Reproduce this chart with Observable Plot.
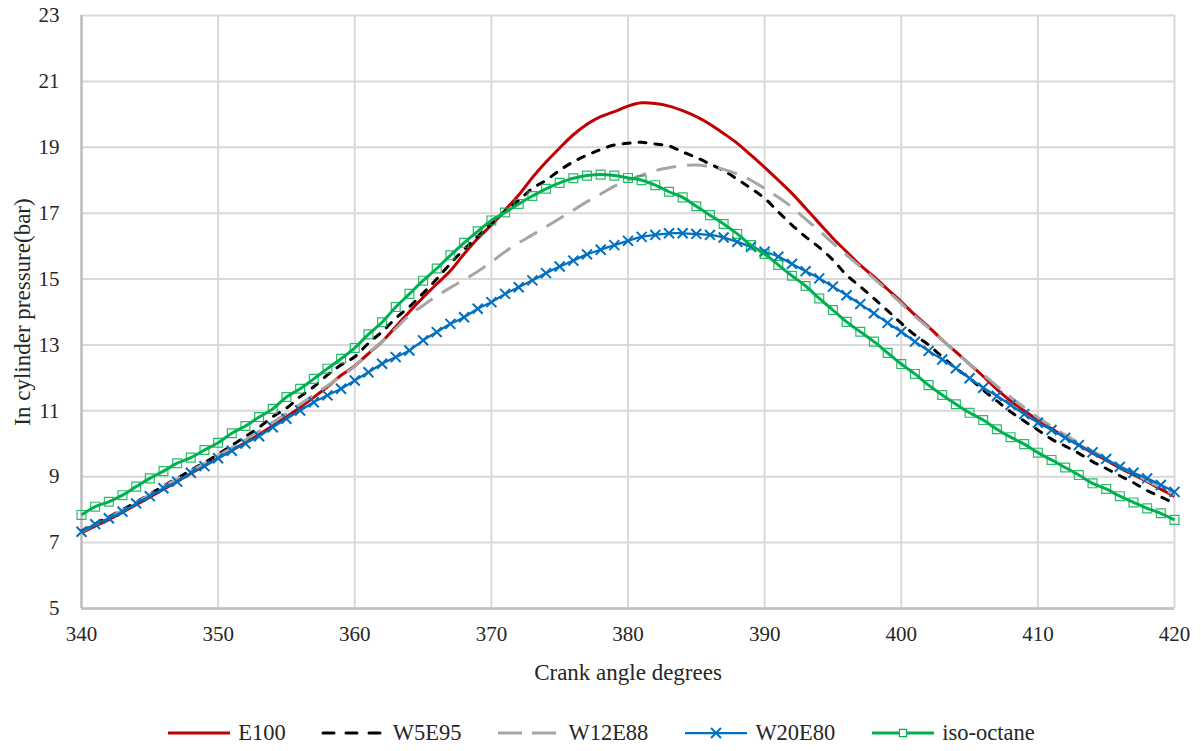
<!DOCTYPE html>
<html>
<head>
<meta charset="utf-8">
<script src="https://cdn.jsdelivr.net/npm/d3@7"></script>
<script src="https://cdn.jsdelivr.net/npm/@observablehq/plot@0.6"></script>
<style>
  body { margin: 0; background: #fff; font-family: 'Liberation Serif', 'Times New Roman', Tinos, serif; }
  #chart svg { display: block; }
  #chart svg, #chart svg text { font-family: 'Liberation Serif', 'Times New Roman', Tinos, serif !important; }
  #legend {
    display: flex; justify-content: center; align-items: center;
    gap: 35px; height: 28px; margin-top: 14px;
    font-size: 22.5px; color: #262626;
  }
  .item { display: flex; align-items: center; gap: 6px; }
  .item svg { display: block; overflow: visible; }
</style>
</head>
<body>
<div id="chart"></div>
<div id="legend"></div>
<script>
// Crank angle (degrees), one sample per degree
const angles = [
  340,341,342,343,344,345,346,347,348,349,350,351,352,353,354,355,356,357,358,359,
  360,361,362,363,364,365,366,367,368,369,370,371,372,373,374,375,376,377,378,379,
  380,381,382,383,384,385,386,387,388,389,390,391,392,393,394,395,396,397,398,399,
  400,401,402,403,404,405,406,407,408,409,410,411,412,413,414,415,416,417,418,419,420
];

// In-cylinder pressure (bar) per fuel
const e100 = [
  7.30,7.50,7.70,7.92,8.15,8.38,8.62,8.85,9.10,9.33,9.57,9.80,10.04,10.29,10.55,10.82,11.10,11.41,11.73,12.08,
  12.36,12.74,13.10,13.55,14.01,14.44,14.85,15.25,15.76,16.23,16.64,17.09,17.55,18.08,18.55,18.98,19.38,19.70,19.93,20.08,
  20.25,20.35,20.33,20.25,20.11,19.93,19.70,19.42,19.12,18.76,18.39,18.00,17.60,17.15,16.69,16.24,15.83,15.42,15.07,14.69,
  14.31,13.91,13.55,13.15,12.79,12.42,12.05,11.65,11.30,11.00,10.72,10.46,10.20,9.96,9.72,9.50,9.27,9.06,8.85,8.62,8.40
];
const w5e95 = [
  7.35,7.57,7.78,8.00,8.23,8.47,8.72,8.95,9.20,9.43,9.68,9.95,10.22,10.50,10.82,11.08,11.43,11.73,12.09,12.39,
  12.64,13.05,13.40,13.81,14.16,14.57,15.00,15.47,15.90,16.30,16.69,17.04,17.39,17.75,18.00,18.30,18.56,18.76,18.93,19.07,
  19.12,19.15,19.10,19.04,18.86,18.69,18.49,18.29,18.03,17.75,17.45,17.04,16.64,16.28,15.96,15.58,15.12,14.77,14.41,14.04,
  13.66,13.30,13.00,12.64,12.29,11.99,11.63,11.30,10.97,10.69,10.42,10.14,9.93,9.71,9.46,9.25,9.03,8.82,8.58,8.39,8.19
];
const w12e88 = [
  7.33,7.55,7.76,7.98,8.22,8.45,8.70,8.93,9.17,9.40,9.64,9.88,10.12,10.38,10.65,10.92,11.20,11.48,11.76,12.05,
  12.35,12.75,13.10,13.50,13.90,14.20,14.48,14.74,14.98,15.23,15.52,15.83,16.10,16.34,16.59,16.84,17.09,17.35,17.58,17.82,
  18.00,18.15,18.29,18.38,18.44,18.46,18.41,18.33,18.19,18.00,17.75,17.48,17.18,16.82,16.46,16.09,15.73,15.38,15.02,14.64,
  14.26,13.87,13.52,13.15,12.77,12.42,12.10,11.75,11.42,11.10,10.80,10.53,10.27,10.02,9.78,9.55,9.32,9.10,8.88,8.66,8.45
];
const w20e80 = [
  7.33,7.56,7.74,7.94,8.19,8.41,8.65,8.85,9.12,9.32,9.56,9.79,10.01,10.23,10.50,10.76,11.01,11.26,11.47,11.67,
  11.92,12.17,12.43,12.63,12.83,13.14,13.39,13.64,13.84,14.10,14.30,14.55,14.75,14.96,15.18,15.38,15.56,15.75,15.89,16.03,
  16.16,16.28,16.34,16.39,16.39,16.37,16.34,16.26,16.13,15.98,15.83,15.68,15.46,15.24,15.02,14.77,14.51,14.24,13.96,13.67,
  13.40,13.10,12.82,12.56,12.29,11.99,11.70,11.45,11.18,10.90,10.64,10.42,10.18,9.96,9.74,9.54,9.30,9.12,8.95,8.75,8.54
];
const isoOctane = [
  7.84,8.09,8.24,8.44,8.70,8.95,9.17,9.41,9.58,9.81,10.03,10.32,10.54,10.81,11.06,11.42,11.67,11.97,12.28,12.58,
  12.91,13.32,13.69,14.15,14.55,14.95,15.32,15.72,16.10,16.45,16.78,17.02,17.28,17.52,17.74,17.92,18.06,18.14,18.17,18.14,
  18.07,18.00,17.85,17.65,17.48,17.21,16.94,16.67,16.37,16.03,15.76,15.43,15.10,14.79,14.41,14.06,13.70,13.40,13.10,12.76,
  12.42,12.12,11.78,11.48,11.20,10.94,10.72,10.44,10.20,9.99,9.73,9.51,9.28,9.05,8.80,8.63,8.41,8.22,8.04,7.89,7.69
];

const xTicks = [340, 350, 360, 370, 380, 390, 400, 410, 420];
const yTicks = [5, 7, 9, 11, 13, 15, 17, 19, 21, 23];
const seriesNames = ["E100", "W5E95", "W12E88", "W20E80", "iso-octane"];
const seriesValues = [e100, w5e95, w12e88, w20e80, isoOctane];

// Line styles per series
const styles = {
  "E100":       {stroke: "#c00000", width: 3,    dash: null,    legendDash: null,    cap: "butt"},
  "W5E95":      {stroke: "#000000", width: 3,    dash: "7,9",   legendDash: "11,12", cap: "round"},
  "W12E88":     {stroke: "#a6a6a6", width: 3,    dash: "20,11", legendDash: "24,10", cap: "butt"},
  "W20E80":     {stroke: "#0070c0", width: 2.25, dash: null,    legendDash: null,    cap: "butt"},
  "iso-octane": {stroke: "#00b050", width: 3,    dash: null,    legendDash: null,    cap: "butt"}
};

const rows = seriesNames.map((name, i) =>
  angles.map((a, j) => ({series: name, angle: a, value: seriesValues[i][j]}))
);

// "×" marker
const timesSymbol = d3.symbolTimes || {
  draw(ctx, size) {
    const r = Math.sqrt(size - Math.min(size / 7, 2)) * 0.6189;
    ctx.moveTo(-r, -r); ctx.lineTo(r, r);
    ctx.moveTo(-r, r); ctx.lineTo(r, -r);
  }
};

const font = "'Liberation Serif', 'Times New Roman', Tinos, serif";

const lineMarks = rows.map((data, i) => {
  const s = styles[seriesNames[i]];
  return Plot.line(data, {
    x: "angle", y: "value", stroke: s.stroke, strokeWidth: s.width,
    strokeDasharray: s.dash || undefined, strokeLinecap: s.cap,
    curve: "catmull-rom"
  });
});

const chart = Plot.plot({
  width: 1201,
  height: 705,
  marginLeft: 81,
  marginRight: 27,
  marginTop: 15,
  marginBottom: 97,
  style: {fontFamily: font, fontSize: "21px", color: "#262626", background: "#fff"},
  x: {domain: [340, 420]},
  y: {domain: [5, 23]},
  marks: [
    Plot.gridX(xTicks, {stroke: "#d9d9d9", strokeOpacity: 1, strokeWidth: 2}),
    Plot.gridY(yTicks, {stroke: "#d9d9d9", strokeOpacity: 1, strokeWidth: 2}),
    Plot.ruleX([340], {stroke: "#bfbfbf", strokeWidth: 2.5}),
    Plot.ruleY([5], {stroke: "#bfbfbf", strokeWidth: 2.5}),
    Plot.axisX(xTicks, {tickSize: 0, tickPadding: 18, label: null, fontSize: 21}),
    Plot.axisY(yTicks, {tickSize: 0, tickPadding: 22, label: null, fontSize: 21}),
    Plot.text(["Crank angle degrees"], {frameAnchor: "bottom", dy: 64, lineAnchor: "middle", textAnchor: "middle", fontSize: 23, fill: "#262626"}),
    Plot.text(["In cylinder pressure(bar)"], {frameAnchor: "left", dx: -59, rotate: -90, textAnchor: "middle", lineAnchor: "middle", fontSize: 23, fill: "#262626"}),
    ...lineMarks.slice(0, 4),
    Plot.dot(rows[3], {x: "angle", y: "value", symbol: timesSymbol, r: 4.6, stroke: "#0070c0", strokeWidth: 2, fill: "none"}),
    lineMarks[4],
    Plot.dot(rows[4], {x: "angle", y: "value", symbol: "square", r: 5, stroke: "#00b050", strokeWidth: 1.2, strokeOpacity: 0.85, fill: "none"})
  ]
});
document.getElementById("chart").append(chart);

// Legend below the chart
const legend = d3.select("#legend");
seriesNames.forEach(name => {
  const s = styles[name];
  const item = legend.append("div").attr("class", "item");
  const svg = item.append("svg").attr("width", 66).attr("height", 14);
  svg.append("line")
    .attr("x1", 2).attr("x2", 64).attr("y1", 7).attr("y2", 7)
    .attr("stroke", s.stroke).attr("stroke-width", s.width)
    .attr("stroke-linecap", s.cap)
    .attr("stroke-dasharray", s.legendDash);
  if (name === "W20E80") {
    svg.append("path").attr("transform", "translate(33,7)")
      .attr("d", d3.symbol(timesSymbol, Math.PI * 4.6 * 4.6)())
      .attr("stroke", s.stroke).attr("stroke-width", 2).attr("fill", "none");
  }
  if (name === "iso-octane") {
    svg.append("path").attr("transform", "translate(33,7)")
      .attr("d", d3.symbol(d3.symbolSquare, Math.PI * 4 * 4)())
      .attr("stroke", s.stroke).attr("stroke-width", 1.2).attr("fill", "#fff");
  }
  item.append("span").text(name);
});
</script>
</body>
</html>
